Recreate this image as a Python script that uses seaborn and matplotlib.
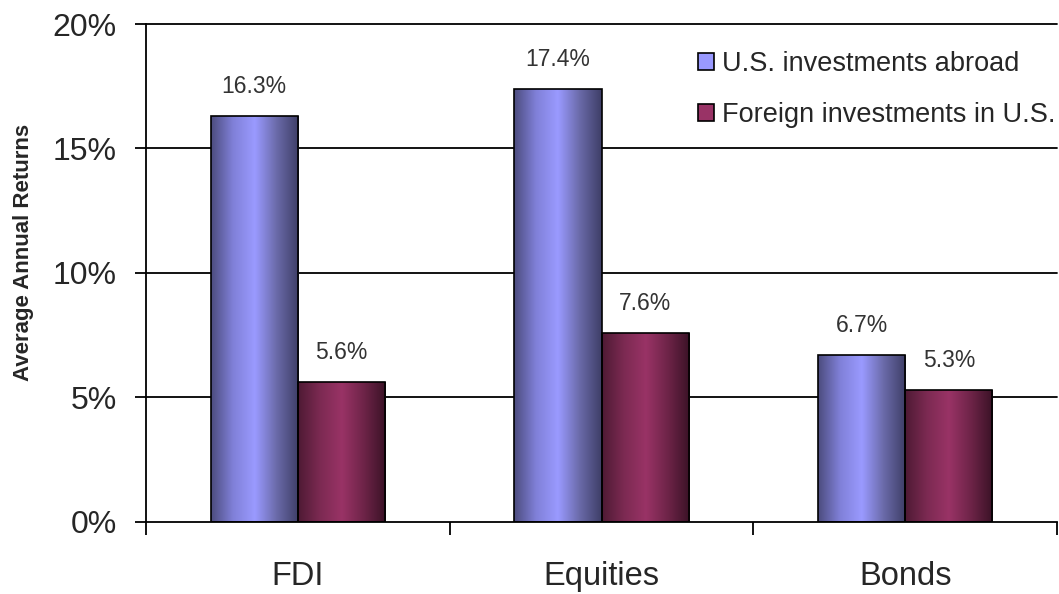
import numpy as np
import pandas as pd
import matplotlib
matplotlib.use('Agg')
import matplotlib.pyplot as plt
from matplotlib.colors import LinearSegmentedColormap
from matplotlib.patches import Patch
import seaborn as sns

sns.set_style('white')
plt.rcParams['font.family'] = ['Liberation Sans', 'DejaVu Sans']

# Data
categories = ['FDI', 'Equities', 'Bonds']
series = ['U.S. investments abroad', 'Foreign investments in U.S.']
us_abroad = [16.3, 17.4, 6.7]
foreign_in_us = [5.6, 7.6, 5.3]
value_labels = ['16.3%', '17.4%', '6.7%', '5.6%', '7.6%', '5.3%']
ytick_labels = ['0%', '5%', '10%', '15%', '20%']

df = pd.DataFrame({
    'Category': categories * 2,
    'Series': [series[0]] * 3 + [series[1]] * 3,
    'Return': us_abroad + foreign_in_us,
})

base_colors = {series[0]: '#9999FF', series[1]: '#993366'}
cmaps = {
    series[0]: LinearSegmentedColormap.from_list('blu', ['#4c4c7e', '#8080d8', '#9a9aff', '#6a6aa8', '#3e3e66']),
    series[1]: LinearSegmentedColormap.from_list('red', ['#4e1a34', '#7c2a52', '#993366', '#6e2448', '#3a1226']),
}

fig = plt.figure(figsize=(10.59, 5.94), dpi=100)
ax = fig.add_axes([0.1379, 0.1215, 0.8602, 0.838])

sns.barplot(data=df, x='Category', y='Return', hue='Series', palette=base_colors,
            width=0.575, edgecolor='black', linewidth=1.2, legend=False, ax=ax)

# gradient fill for the bars
grad = np.linspace(0, 1, 256).reshape(1, -1)
for container, s in zip(ax.containers, series):
    for bar in container:
        x0, y0 = bar.get_x(), bar.get_y()
        w, h = bar.get_width(), bar.get_height()
        im = ax.imshow(grad, cmap=cmaps[s], aspect='auto',
                       extent=[x0, x0 + w, y0, y0 + h], zorder=bar.get_zorder())
        im.set_clip_path(bar)
        bar.set_facecolor('none')
        bar.set_zorder(bar.get_zorder() + 0.1)
ax.set_xlim(-0.5, 2.5)
ax.set_ylim(0, 20)
ax.set_aspect('auto')

# value labels
i = 0
for container in ax.containers:
    for bar in container:
        ax.text(bar.get_x() + bar.get_width() / 2, bar.get_height() + 0.93, value_labels[i],
                ha='center', va='baseline', fontsize=16.5, color='#333333')
        i += 1

# grid, spines, ticks
ax.set_yticks([0, 5, 10, 15, 20])
ax.set_yticklabels(ytick_labels, fontsize=23)
for yv in [5, 10, 15, 20]:
    ax.axhline(yv, color='black', lw=1.3, zorder=0.5, clip_on=False)
ax.tick_params(axis='y', direction='out', length=8, width=1.3, color='black', left=True, pad=13)
ax.tick_params(axis='x', which='major', length=0, labelsize=23.5, pad=28)
ax.set_xticks([-0.5, 0.5, 1.5, 2.5], minor=True)
ax.tick_params(axis='x', which='minor', direction='out', length=9, width=1.3, color='black', bottom=True)
for side in ['top', 'right']:
    ax.spines[side].set_visible(False)
for side in ['left', 'bottom']:
    ax.spines[side].set_color('black')
    ax.spines[side].set_linewidth(1.3)

ax.set_xlabel('')
ax.set_ylabel('')
fig.text(24 / 1059, 1 - 252 / 594, 'Average Annual Returns', rotation=90, ha='center', va='center',
         fontsize=16, fontweight='bold')

handles = [Patch(facecolor=base_colors[s], edgecolor='black', linewidth=1.2) for s in series]
ax.legend(handles, series, loc='upper left', bbox_to_anchor=(0.594, 0.967), frameon=False,
          fontsize=19.5, handlelength=0.6, handleheight=0.6, handletextpad=0.3, labelspacing=0.92,
          borderaxespad=0)

fig.savefig('out.png', dpi=100)
